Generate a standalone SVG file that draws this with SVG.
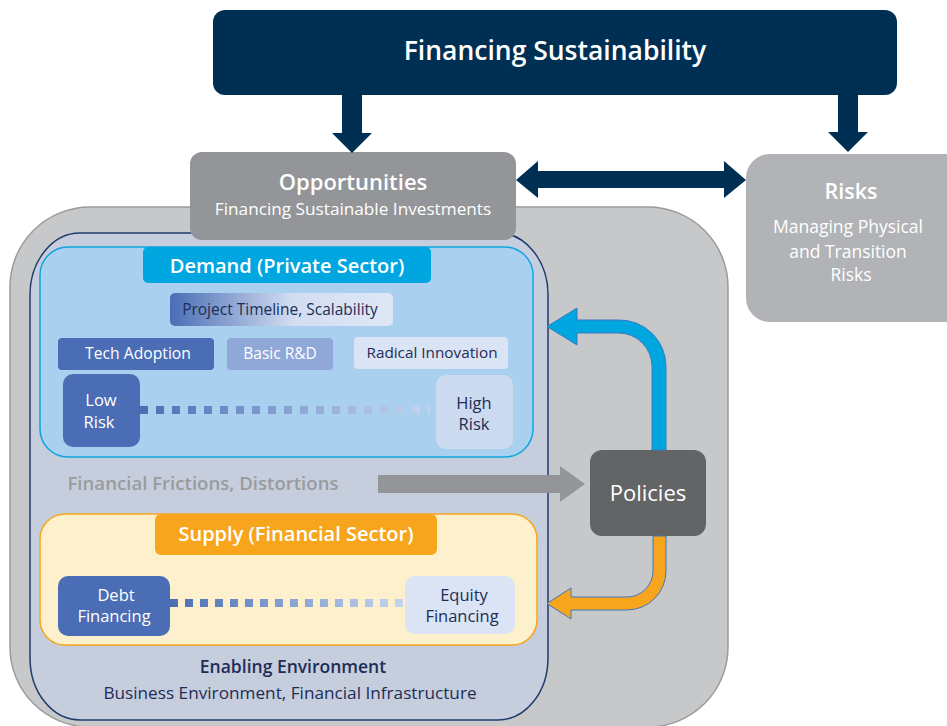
<svg xmlns="http://www.w3.org/2000/svg" width="947" height="726" viewBox="0 0 947 726">
<defs>
<style>
text{font-family:"Open Sans",Lato,"Liberation Sans",sans-serif;text-anchor:middle}
.w{fill:#ffffff}
.d{fill:#1d2d57}
.b{font-weight:600}
.navy{fill:#002f54}
.conn{stroke:#3f78c0;stroke-width:1}
</style>
<linearGradient id="gTime" x1="170" y1="0" x2="393" y2="0" gradientUnits="userSpaceOnUse">
<stop offset="0" stop-color="#4a6db5"/><stop offset="0.55" stop-color="#d2ddf1"/><stop offset="1" stop-color="#dfe7f5"/>
</linearGradient>
<linearGradient id="gDot1" x1="140" y1="0" x2="430" y2="0" gradientUnits="userSpaceOnUse">
<stop offset="0" stop-color="#4a6db5"/><stop offset="1" stop-color="#c6d5ee"/>
</linearGradient>
<linearGradient id="gDot2" x1="170" y1="0" x2="405" y2="0" gradientUnits="userSpaceOnUse">
<stop offset="0" stop-color="#4a6db5"/><stop offset="1" stop-color="#c6d5ee"/>
</linearGradient>
</defs>

<!-- containers -->
<g id="outer">
<rect x="10" y="207" width="718" height="520" rx="80" fill="#c7c8ca" stroke="#9a9b9d" stroke-width="1.5"/>
</g>
<g id="enabling">
<rect x="30" y="233" width="518" height="487" rx="50" ry="62" fill="#c6cedd" stroke="#1f3b6c" stroke-width="1.5"/>
<text class="d b" x="293" y="673" font-size="17.5">Enabling Environment</text>
<text class="d" x="290" y="699" font-size="17.2">Business Environment, Financial Infrastructure</text>
</g>

<g id="demand">
<rect x="40" y="247" width="493" height="210" rx="28" fill="#a9d1ef" stroke="#0ea5e0" stroke-width="1.5"/>
<rect x="143" y="247" width="288" height="36" rx="5" fill="#00a6e0"/>
<text class="w b" x="287" y="273" font-size="20">Demand (Private Sector)</text>
</g>
<g id="timeline">
<rect x="170" y="293" width="223" height="33" rx="5" fill="url(#gTime)"/>
<text class="d" x="280" y="315" font-size="15.5">Project Timeline, Scalability</text>
</g>
<g id="tech">
<rect x="58" y="338" width="156" height="32" rx="4" fill="#4a6db5"/>
<text class="w" x="138" y="359" font-size="15.7">Tech Adoption</text>
</g>
<g id="basic">
<rect x="227" y="338" width="106" height="32" rx="4" fill="#8fa8d8"/>
<text class="w" x="280" y="359" font-size="15.5">Basic R&amp;D</text>
</g>
<g id="radical">
<rect x="354" y="337" width="154" height="32" rx="4" fill="#dbe4f4"/>
<text class="d" x="432" y="358" font-size="15.3">Radical Innovation</text>
</g>
<g id="lowrisk">
<rect x="63" y="374" width="77" height="73" rx="10" fill="#4a6db5"/>
<text class="w" x="101" y="406" font-size="16.5">Low</text>
<text class="w" x="99" y="428" font-size="16.5">Risk</text>
</g>
<g id="highrisk">
<rect x="436" y="375" width="77" height="74" rx="10" fill="#cddbf1"/>
<text class="d" x="474" y="409" font-size="16.5">High</text>
<text class="d" x="474" y="430" font-size="16.5">Risk</text>
</g>

<g id="supply">
<rect x="40" y="514" width="497" height="131" rx="25" fill="#fdf0cc" stroke="#f7a51c" stroke-width="1.5"/>
<rect x="155" y="514" width="282" height="41" rx="6" fill="#f7a51c"/>
<text class="w b" x="296" y="541" font-size="20">Supply (Financial Sector)</text>
</g>
<g id="debt">
<rect x="58" y="576" width="112" height="60" rx="10" fill="#4a6db5"/>
<text class="w" x="116" y="601" font-size="16.5">Debt</text>
<text class="w" x="114" y="622" font-size="16.5">Financing</text>
</g>
<g id="equity">
<rect x="405" y="576" width="110" height="58" rx="10" fill="#dbe4f4"/>
<text class="d" x="464" y="601" font-size="16.5">Equity</text>
<text class="d" x="462" y="622" font-size="16.5">Financing</text>
</g>

<g id="frictions">
<text x="203" y="490" font-size="18.6" font-weight="600" fill="#9a9b9d">Financial Frictions, Distortions</text>
</g>

<g id="policies">
<rect x="590" y="450" width="116" height="86" rx="12" fill="#636466"/>
<text class="w" x="648" y="501" font-size="22">Policies</text>
</g>

<g id="top">
<rect x="213" y="10" width="684" height="85" rx="12" fill="#002f54"/>
<text class="w b" x="555" y="60" font-size="26.5">Financing Sustainability</text>
</g>

<g id="opportunities">
<rect x="190" y="152" width="326" height="88" rx="12" fill="#939598"/>
<text class="w b" x="353" y="190" font-size="22">Opportunities</text>
<text class="w" x="353" y="215" font-size="17.2">Financing Sustainable Investments</text>
</g>

<g id="risks">
<rect x="746" y="154" width="230" height="168" rx="24" fill="#b1b3b6"/>
<text class="w b" x="851" y="199" font-size="21.5">Risks</text>
<text class="w" x="848" y="233" font-size="17.5">Managing Physical</text>
<text class="w" x="848" y="258" font-size="17.5">and Transition</text>
<text class="w" x="851" y="281" font-size="17.5">Risks</text>
</g>

<g id="connectors">
<polygon class="navy" points="342,95 362,95 362,133 372,133 352,153 332,133 342,133"/>
<polygon class="navy" points="838,95 858,95 858,132 868,132 848,152 828,132 838,132"/>
<polygon class="navy" points="516,180 538,161 538,171 724,171 724,161 746,180 724,198 724,188 538,188 538,198"/>
<line x1="140" y1="410" x2="430" y2="410" stroke="url(#gDot1)" stroke-width="8" stroke-dasharray="8 8"/>
<line x1="170" y1="603" x2="405" y2="603" stroke="url(#gDot2)" stroke-width="8" stroke-dasharray="8 7"/>
<polygon fill="#939598" points="378,475 560,475 560,466 585,484 560,502 560,493 378,493"/>
<path class="conn" fill="#00a6e0" d="M652,450 L652,366.5 A33.5,33.5 0 0 0 618.5,333 L577,333 L577,345 L547,326.5 L577,308 L577,320 L618.5,320 A46.5,46.5 0 0 1 666,366.5 L666,450 Z"/>
<path class="conn" fill="#f7a51c" d="M653,536 L653,571 A26,26 0 0 1 627,597 L571,597 L571,588 L547,603.5 L571,619 L571,610 L627,610 A39,39 0 0 0 666,571 L666,536 Z"/>
</g>
</svg>
